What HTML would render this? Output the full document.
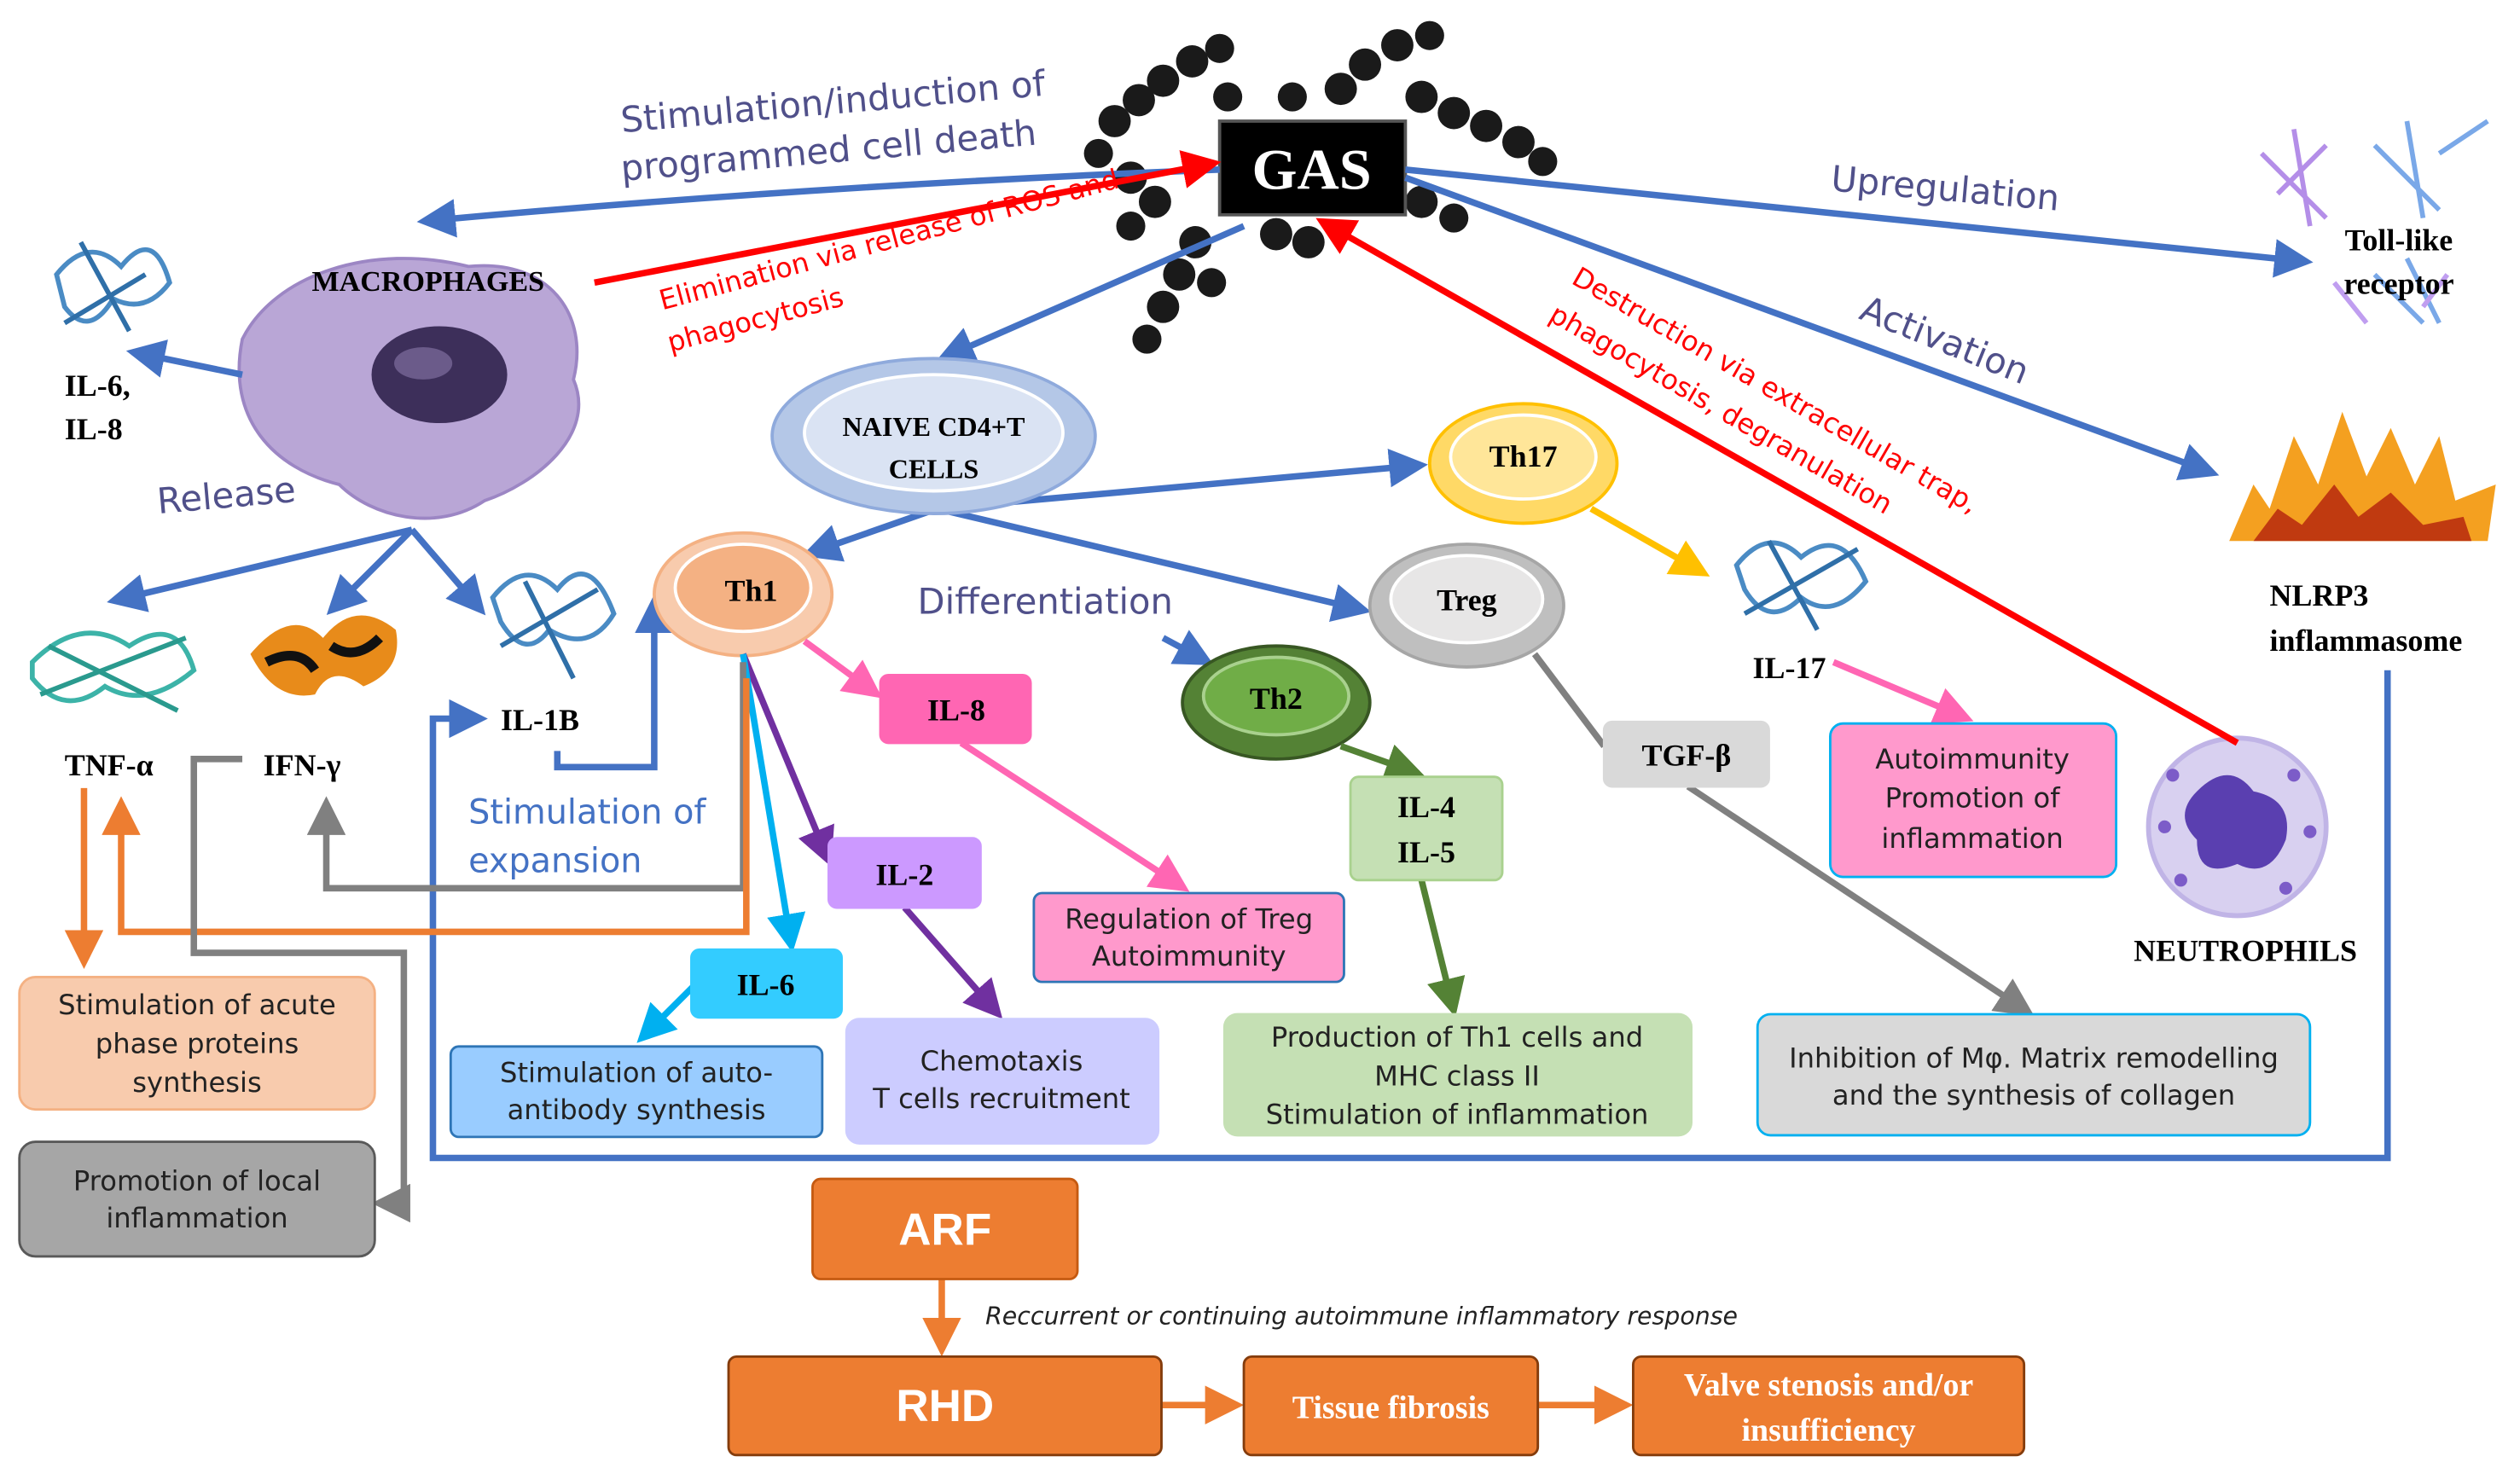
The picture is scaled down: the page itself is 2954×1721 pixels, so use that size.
<!DOCTYPE html>
<html><head><meta charset="utf-8"><style>
html,body{margin:0;padding:0;background:#fff;}
svg{display:block;}
.s{font-family:"Liberation Serif",serif;font-weight:bold;fill:#000;}
.h{font-family:"DejaVu Sans",sans-serif;fill:#222;}
.b{font-family:"Liberation Sans",sans-serif;font-weight:bold;fill:#fff;}
</style></head><body>
<svg width="2954" height="1721" viewBox="0 0 1560 909" preserveAspectRatio="none" xmlns="http://www.w3.org/2000/svg">
<defs>
<marker id="ab" markerWidth="6" markerHeight="6" refX="5" refY="3" orient="auto" markerUnits="strokeWidth"><path d="M0,0 L6,3 L0,6z" fill="#4472c4"/></marker>
<marker id="ar" markerWidth="6" markerHeight="6" refX="5" refY="3" orient="auto" markerUnits="strokeWidth"><path d="M0,0 L6,3 L0,6z" fill="#ff0000"/></marker>
<marker id="ao" markerWidth="6" markerHeight="6" refX="5" refY="3" orient="auto" markerUnits="strokeWidth"><path d="M0,0 L6,3 L0,6z" fill="#ed7d31"/></marker>
<marker id="ag" markerWidth="6" markerHeight="6" refX="5" refY="3" orient="auto" markerUnits="strokeWidth"><path d="M0,0 L6,3 L0,6z" fill="#808080"/></marker>
<marker id="ay" markerWidth="6" markerHeight="6" refX="5" refY="3" orient="auto" markerUnits="strokeWidth"><path d="M0,0 L6,3 L0,6z" fill="#ffc000"/></marker>
<marker id="ap" markerWidth="6" markerHeight="6" refX="5" refY="3" orient="auto" markerUnits="strokeWidth"><path d="M0,0 L6,3 L0,6z" fill="#ff66b3"/></marker>
<marker id="av" markerWidth="6" markerHeight="6" refX="5" refY="3" orient="auto" markerUnits="strokeWidth"><path d="M0,0 L6,3 L0,6z" fill="#7030a0"/></marker>
<marker id="ac" markerWidth="6" markerHeight="6" refX="5" refY="3" orient="auto" markerUnits="strokeWidth"><path d="M0,0 L6,3 L0,6z" fill="#00b0f0"/></marker>
<marker id="an" markerWidth="6" markerHeight="6" refX="5" refY="3" orient="auto" markerUnits="strokeWidth"><path d="M0,0 L6,3 L0,6z" fill="#548235"/></marker>
</defs>

<!-- GAS chains -->
<g fill="#1a1a1a">
<circle cx="690" cy="75" r="10"/><circle cx="705" cy="62" r="10"/><circle cx="720" cy="50" r="10"/><circle cx="738" cy="38" r="10"/><circle cx="755" cy="30" r="9"/>
<circle cx="680" cy="95" r="9"/><circle cx="700" cy="110" r="10"/><circle cx="715" cy="125" r="10"/><circle cx="700" cy="140" r="9"/>
<circle cx="740" cy="150" r="10"/><circle cx="730" cy="170" r="10"/><circle cx="720" cy="190" r="10"/><circle cx="710" cy="210" r="9"/><circle cx="750" cy="175" r="9"/>
<circle cx="790" cy="145" r="10"/><circle cx="810" cy="150" r="10"/><circle cx="830" cy="55" r="10"/><circle cx="845" cy="40" r="10"/><circle cx="865" cy="28" r="10"/><circle cx="885" cy="22" r="9"/>
<circle cx="880" cy="60" r="10"/><circle cx="900" cy="70" r="10"/><circle cx="920" cy="78" r="10"/><circle cx="940" cy="88" r="10"/><circle cx="955" cy="100" r="9"/>
<circle cx="880" cy="125" r="10"/><circle cx="900" cy="135" r="9"/><circle cx="760" cy="60" r="9"/><circle cx="800" cy="60" r="9"/>
</g>
<rect x="755" y="75" width="115" height="58" fill="#000" stroke="#555" stroke-width="2"/>
<text x="812" y="117" text-anchor="middle" class="s" style="fill:#fff;font-size:36px">GAS</text>

<!-- Macrophage -->
<path d="M150,210 C170,170 230,150 290,165 C340,160 365,195 355,235 C370,270 330,300 300,310 C270,330 230,320 210,300 C170,290 140,260 150,210z" fill="#b9a6d6" stroke="#9c86c4" stroke-width="2"/>
<ellipse cx="272" cy="232" rx="42" ry="30" fill="#3d2f5a"/>
<ellipse cx="262" cy="225" rx="18" ry="10" fill="#6b5b8a"/>
<text x="265" y="180" text-anchor="middle" class="s" style="font-size:18px">MACROPHAGES</text>

<!-- protein icons -->
<g fill="none" stroke-width="3">
<path d="M35,170 q20,-25 40,-5 q20,-25 30,10 q-15,20 -35,10 q-15,25 -30,5z" stroke="#4a8bc4"/>
<path d="M40,200 l50,-30 M50,150 l30,55" stroke="#2f6fa8"/>
<path d="M305,370 q20,-25 40,-5 q20,-25 35,15 q-15,25 -40,10 q-15,20 -30,-5z" stroke="#4a8bc4"/>
<path d="M310,400 l60,-35 M325,360 l30,60" stroke="#2f6fa8"/>
<path d="M1075,350 q20,-25 40,-5 q25,-20 40,15 q-20,25 -40,10 q-20,20 -35,-5z" stroke="#4a8bc4"/>
<path d="M1080,380 l70,-40 M1095,335 l30,55" stroke="#2f6fa8"/>
<path d="M20,410 q30,-30 60,-10 q30,-20 40,15 q-30,25 -55,10 q-25,20 -45,-5z" stroke="#3cb3a8"/>
<path d="M25,430 l90,-35 M30,400 l80,40" stroke="#2a9a8e"/>
</g>
<g>
<path d="M155,405 q25,-30 45,-10 q20,-25 45,-5 q5,25 -20,35 q-20,-15 -30,5 q-25,5 -40,-25z" fill="#e88b1a"/>
<path d="M165,410 q20,-10 30,5 M205,400 q15,10 30,-5" stroke="#111" stroke-width="6" fill="none"/>
</g>
<g fill="none" stroke-width="3">
<path d="M1400,95 l40,40 M1410,120 l30,-30 M1420,80 l10,60" stroke="#b48ee8"/>
<path d="M1470,90 l40,40 M1490,75 l10,60 M1510,95 l30,-20 M1470,170 l30,30 M1490,160 l20,40" stroke="#7aa8e8"/>
<path d="M1445,175 l20,25 M1500,190 l15,-20" stroke="#c09ef0"/>
</g>
<!-- fire -->
<path d="M1380,335 L1395,300 L1405,315 L1420,270 L1435,300 L1450,255 L1465,295 L1480,265 L1495,300 L1510,270 L1520,310 L1545,300 L1540,335z" fill="#f4a020"/>
<path d="M1395,335 L1410,315 L1425,325 L1445,300 L1460,320 L1480,305 L1500,325 L1525,320 L1530,335z" fill="#c03a10"/>
<!-- neutrophil -->
<circle cx="1385" cy="512" r="55" fill="#d8d0f0" stroke="#c0b4e6" stroke-width="3"/>
<path d="M1360,490 q20,-20 35,0 q25,5 20,30 q-10,25 -30,15 q-25,10 -25,-15 q-15,-15 0,-30z" fill="#5a3fb0"/>
<g fill="#7c5cc8"><circle cx="1345" cy="480" r="4"/><circle cx="1420" cy="480" r="4"/><circle cx="1350" cy="545" r="4"/><circle cx="1415" cy="550" r="4"/><circle cx="1430" cy="515" r="4"/><circle cx="1340" cy="512" r="4"/></g>

<!-- Blue arrows -->
<g stroke="#4472c4" stroke-width="4" fill="none" marker-end="url(#ab)">
<path d="M755,105 Q500,115 262,137"/>
<path d="M870,105 L1428,162"/>
<path d="M870,110 L1370,293"/>
<path d="M770,140 L583,222"/>
<path d="M150,232 L82,218"/>
<path d="M255,328 L70,372"/>
<path d="M255,328 L205,378"/>
<path d="M255,328 L298,378"/>
<path d="M580,315 L500,343"/>
<path d="M580,315 L880,288"/>
<path d="M580,315 L845,378"/>
<path d="M720,395 L748,410"/>
<path d="M345,465 L345,475 L405,475 L405,372"/>
<path d="M1478,415 L1478,717 L268,717 L268,445 L298,445"/>
</g>
<!-- Red arrows -->
<g stroke="#ff0000" stroke-width="4" fill="none" marker-end="url(#ar)">
<path d="M368,175 L752,101"/>
<path d="M1385,460 L818,137"/>
</g>

<!-- Ellipses -->
<ellipse cx="578" cy="270" rx="100" ry="48" fill="#b4c7e7" stroke="#8faadc" stroke-width="2"/>
<ellipse cx="578" cy="268" rx="80" ry="36" fill="#dae3f3" stroke="#fff" stroke-width="2"/>
<text x="578" y="270" text-anchor="middle" class="s" style="font-size:17px">NAIVE  CD4+T</text>
<text x="578" y="296" text-anchor="middle" class="s" style="font-size:17px">CELLS</text>
<ellipse cx="943" cy="287" rx="58" ry="37" fill="#ffd966" stroke="#ffc000" stroke-width="2"/>
<ellipse cx="943" cy="283" rx="45" ry="26" fill="#ffe699" stroke="#fff" stroke-width="2"/>
<text x="943" y="289" text-anchor="middle" class="s" style="font-size:19px">Th17</text>
<ellipse cx="460" cy="368" rx="55" ry="38" fill="#f8cbad" stroke="#f4b183" stroke-width="2"/>
<ellipse cx="460" cy="364" rx="42" ry="27" fill="#f4b183" stroke="#fff" stroke-width="2"/>
<text x="465" y="372" text-anchor="middle" class="s" style="font-size:19px">Th1</text>
<ellipse cx="908" cy="375" rx="60" ry="38" fill="#bfbfbf" stroke="#a6a6a6" stroke-width="2"/>
<ellipse cx="908" cy="371" rx="47" ry="27" fill="#e7e6e6" stroke="#fff" stroke-width="2"/>
<text x="908" y="378" text-anchor="middle" class="s" style="font-size:19px">Treg</text>
<ellipse cx="790" cy="435" rx="58" ry="35" fill="#548235" stroke="#385723" stroke-width="2"/>
<ellipse cx="790" cy="431" rx="45" ry="24" fill="#70ad47" stroke="#a9d18e" stroke-width="2"/>
<text x="790" y="439" text-anchor="middle" class="s" style="font-size:19px">Th2</text>

<!-- colored arrows -->
<path d="M985,315 L1055,355" stroke="#ffc000" stroke-width="4" fill="none" marker-end="url(#ay)"/>
<path d="M1135,410 L1218,445" stroke="#ff66b3" stroke-width="4" fill="none" marker-end="url(#ap)"/>
<path d="M950,405 L993,462" stroke="#808080" stroke-width="4" fill="none"/>
<path d="M1045,487 L1256,627" stroke="#808080" stroke-width="4" fill="none" marker-end="url(#ag)"/>
<path d="M830,462 L878,479" stroke="#548235" stroke-width="4" fill="none" marker-end="url(#an)"/>
<path d="M880,545 L900,626" stroke="#548235" stroke-width="4" fill="none" marker-end="url(#an)"/>
<path d="M498,397 L543,430" stroke="#ff66b3" stroke-width="4" fill="none" marker-end="url(#ap)"/>
<path d="M595,460 L733,550" stroke="#ff66b3" stroke-width="4" fill="none" marker-end="url(#ap)"/>
<path d="M460,405 L513,533" stroke="#7030a0" stroke-width="4" fill="none" marker-end="url(#av)"/>
<path d="M560,562 L618,628" stroke="#7030a0" stroke-width="4" fill="none" marker-end="url(#av)"/>
<path d="M460,405 L490,586" stroke="#00b0f0" stroke-width="4" fill="none" marker-end="url(#ac)"/>
<path d="M430,610 L397,643" stroke="#00b0f0" stroke-width="4" fill="none" marker-end="url(#ac)"/>
<path d="M460,410 L460,550 L202,550 L202,497" stroke="#808080" stroke-width="4" fill="none" marker-end="url(#ag)"/>
<path d="M462,420 L462,577 L75,577 L75,497" stroke="#ed7d31" stroke-width="4" fill="none" marker-end="url(#ao)"/>
<path d="M52,488 L52,596" stroke="#ed7d31" stroke-width="4" fill="none" marker-end="url(#ao)"/>
<path d="M150,470 L120,470 L120,590 L250,590 L250,745 L234,745" stroke="#808080" stroke-width="4" fill="none" marker-end="url(#ag)"/>
<path d="M583,792 L583,836" stroke="#ed7d31" stroke-width="4" fill="none" marker-end="url(#ao)"/>
<path d="M719,870 L766,870" stroke="#ed7d31" stroke-width="4" fill="none" marker-end="url(#ao)"/>
<path d="M952,870 L1007,870" stroke="#ed7d31" stroke-width="4" fill="none" marker-end="url(#ao)"/>

<!-- boxes -->
<g stroke-width="1.5">
<rect x="1133" y="448" width="177" height="95" rx="8" fill="#ff99cc" stroke="#00b0f0"/>
<rect x="993" y="447" width="102" height="40" rx="5" fill="#d9d9d9" stroke="#d9d9d9"/>
<rect x="1088" y="628" width="342" height="75" rx="8" fill="#d9d9d9" stroke="#00b0f0"/>
<rect x="836" y="481" width="94" height="64" rx="5" fill="#c5e0b4" stroke="#a9d18e"/>
<rect x="758" y="628" width="289" height="75" rx="8" fill="#c5e0b4" stroke="#c5e0b4"/>
<rect x="545" y="418" width="93" height="42" rx="5" fill="#ff66b3" stroke="#ff66b3"/>
<rect x="640" y="553" width="192" height="55" rx="5" fill="#ff99cc" stroke="#2e75b6"/>
<rect x="513" y="519" width="94" height="43" rx="5" fill="#cc99ff" stroke="#cc99ff"/>
<rect x="524" y="631" width="193" height="77" rx="8" fill="#ccccff" stroke="#ccccff"/>
<rect x="428" y="588" width="93" height="42" rx="5" fill="#33ccff" stroke="#33ccff"/>
<rect x="279" y="648" width="230" height="56" rx="5" fill="#99ccff" stroke="#2e75b6"/>
<rect x="12" y="605" width="220" height="82" rx="10" fill="#f8cbad" stroke="#f4b183"/>
<rect x="12" y="707" width="220" height="71" rx="10" fill="#a6a6a6" stroke="#595959"/>
<rect x="503" y="730" width="164" height="62" rx="5" fill="#ed7d31" stroke="#c55a11"/>
<rect x="451" y="840" width="268" height="61" rx="5" fill="#ed7d31" stroke="#843c0c"/>
<rect x="770" y="840" width="182" height="61" rx="5" fill="#ed7d31" stroke="#843c0c"/>
<rect x="1011" y="840" width="242" height="61" rx="5" fill="#ed7d31" stroke="#843c0c"/>
</g>

<!-- box texts -->
<g class="h" style="font-size:17px" text-anchor="middle">
<text x="1221" y="476">Autoimmunity</text><text x="1221" y="500">Promotion of</text><text x="1221" y="525">inflammation</text>
<text x="1259" y="661">Inhibition of Mφ. Matrix remodelling</text><text x="1259" y="684">and the synthesis of collagen</text>
<text x="902" y="648">Production of Th1 cells and</text><text x="902" y="672">MHC class II</text><text x="902" y="696">Stimulation of inflammation</text>
<text x="736" y="575">Regulation of Treg</text><text x="736" y="598">Autoimmunity</text>
<text x="620" y="663">Chemotaxis</text><text x="620" y="686">T cells recruitment</text>
<text x="394" y="670">Stimulation of auto-</text><text x="394" y="693">antibody synthesis</text>
<text x="122" y="628">Stimulation of acute</text><text x="122" y="652">phase proteins</text><text x="122" y="676">synthesis</text>
<text x="122" y="737">Promotion of local</text><text x="122" y="760">inflammation</text>
</g>
<g class="s" text-anchor="middle" style="font-size:19px">
<text x="1044" y="474">TGF-β</text>
<text x="883" y="506">IL-4</text><text x="883" y="534">IL-5</text>
<text x="592" y="446">IL-8</text>
<text x="560" y="548">IL-2</text>
<text x="474" y="616">IL-6</text>
</g>
<text x="585" y="771" text-anchor="middle" class="b" style="font-size:28px">ARF</text>
<text x="585" y="880" text-anchor="middle" class="b" style="font-size:28px">RHD</text>
<text x="861" y="878" text-anchor="middle" class="s" style="fill:#fff;font-size:20px">Tissue fibrosis</text>
<text x="1132" y="864" text-anchor="middle" class="s" style="fill:#fff;font-size:20px">Valve stenosis and/or</text>
<text x="1132" y="892" text-anchor="middle" class="s" style="fill:#fff;font-size:20px">insufficiency</text>
<text x="610" y="820" class="h" style="font-size:15px;font-style:italic">Reccurrent or continuing autoimmune inflammatory response</text>

<!-- labels -->
<g class="s" style="font-size:19px">
<text x="40" y="245">IL-6,</text><text x="40" y="272">IL-8</text>
<text x="40" y="480">TNF-α</text>
<text x="163" y="480">IFN-γ</text>
<text x="310" y="452">IL-1B</text>
<text x="1085" y="420">IL-17</text>
<text x="1485" y="155" text-anchor="middle">Toll-like</text><text x="1485" y="182" text-anchor="middle">receptor</text>
<text x="1405" y="375">NLRP3</text><text x="1405" y="403">inflammasome</text>
<text x="1390" y="595" text-anchor="middle">NEUTROPHILS</text>
</g>
<g class="h" style="fill:#50508a;font-size:22px">
<text x="385" y="82" transform="rotate(-5 385 82)">Stimulation/induction of</text>
<text x="385" y="112" transform="rotate(-5 385 112)">programmed cell death</text>
<text x="98" y="318" transform="rotate(-5 98 318)">Release</text>
<text x="568" y="380">Differentiation</text>
<text x="1133" y="118" transform="rotate(5 1133 118)">Upregulation</text>
<text x="1150" y="197" transform="rotate(22 1150 197)">Activation</text>
</g>
<g class="h" style="fill:#4472c4;font-size:21px">
<text x="290" y="510">Stimulation of</text><text x="290" y="540">expansion</text>
</g>
<g class="h" style="fill:#ff0000;font-size:17px">
<text x="410" y="192" transform="rotate(-15 410 192)">Elimination via release of ROS and</text>
<text x="415" y="218" transform="rotate(-15 415 218)">phagocytosis</text>
<text x="972" y="175" transform="rotate(30 972 175)">Destruction via extracellular trap,</text>
<text x="958" y="198" transform="rotate(30 958 198)">phagocytosis, degranulation</text>
</g>
</svg>
</body></html>
